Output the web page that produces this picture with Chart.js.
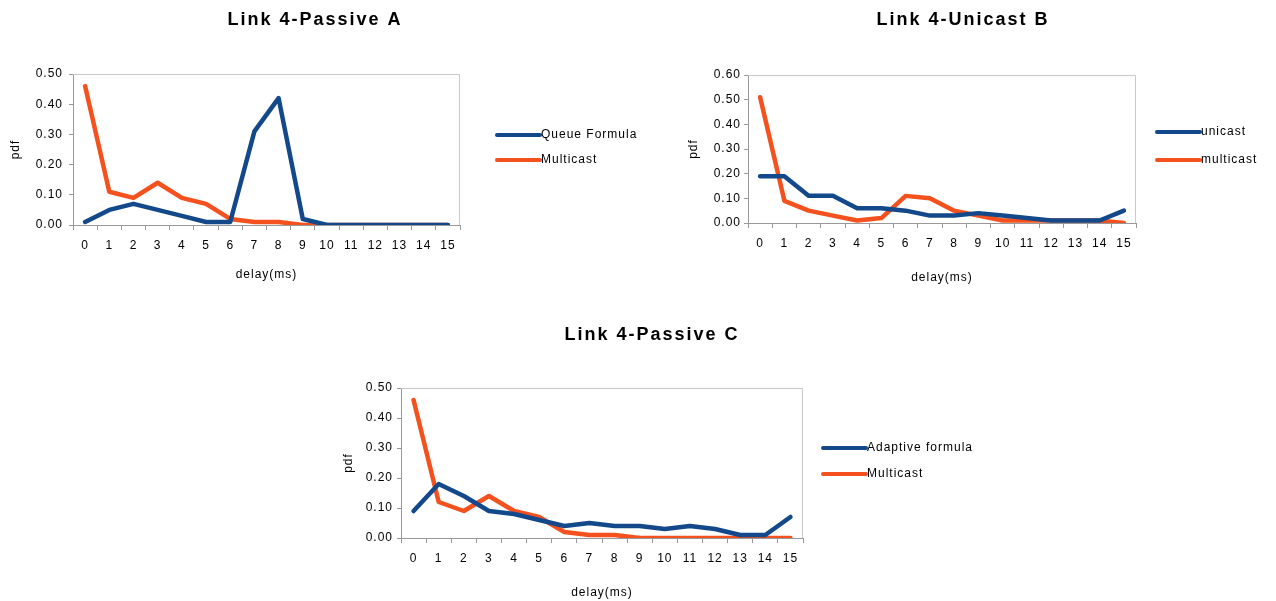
<!DOCTYPE html>
<html>
<head>
<meta charset="utf-8">
<script src="https://cdn.jsdelivr.net/npm/chart.js@4"></script>
<style>
  body { margin: 0; background: #fff; }
  canvas { position: absolute; }
</style>
</head>
<body>
<canvas id="chartA" width="660" height="300" style="left:0;top:0"></canvas>
<canvas id="chartB" width="616" height="300" style="left:660px;top:0"></canvas>
<canvas id="chartC" width="700" height="301" style="left:300px;top:300px"></canvas>
<script>
// data

const delays = ['0', '1', '2', '3', '4', '5', '6', '7', '8', '9', '10', '11', '12', '13', '14', '15'];

const queueFormulaA = [0.01, 0.05, 0.07, 0.05, 0.03, 0.01, 0.01, 0.31, 0.42, 0.02, 0.00, 0.00, 0.00, 0.00, 0.00, 0.00];
const multicastA    = [0.46, 0.11, 0.09, 0.14, 0.09, 0.07, 0.02, 0.01, 0.01, 0.00, 0.00, 0.00, 0.00, 0.00, 0.00, 0.00];

const unicastB      = [0.19, 0.19, 0.11, 0.11, 0.06, 0.06, 0.05, 0.03, 0.03, 0.04, 0.03, 0.02, 0.01, 0.01, 0.01, 0.05];
const multicastB    = [0.51, 0.09, 0.05, 0.03, 0.01, 0.02, 0.11, 0.10, 0.05, 0.03, 0.01, 0.01, 0.01, 0.01, 0.01, 0.00];

const adaptiveC     = [0.09, 0.18, 0.14, 0.09, 0.08, 0.06, 0.04, 0.05, 0.04, 0.04, 0.03, 0.04, 0.03, 0.01, 0.01, 0.07];
const multicastC    = [0.46, 0.12, 0.09, 0.14, 0.09, 0.07, 0.02, 0.01, 0.01, 0.00, 0.00, 0.00, 0.00, 0.00, 0.00, 0.00];

const yMaxA = 0.5;
const yMaxB = 0.6;
const yMaxC = 0.5;

const BLUE = '#13498a';
const ORANGE = '#f4511e';
const FONT = "'Liberation Sans', Arial, sans-serif";

// title, frame and legend drawn next to the plot, excel style
const excelBits = {
    id: 'excelBits',
    beforeUpdate(chart) {
        chart.ctx.letterSpacing = '1px';
    },
    beforeDatasetsDraw(chart) {
        const a = chart.chartArea;
        const ctx = chart.ctx;
        ctx.save();
        ctx.strokeStyle = '#c9c9c9';
        ctx.lineWidth = 1;
        ctx.beginPath();
        ctx.moveTo(a.left, a.top + 0.5);
        ctx.lineTo(a.right - 0.5, a.top + 0.5);
        ctx.lineTo(a.right - 0.5, a.bottom);
        ctx.stroke();
        ctx.restore();
    },
    afterDraw(chart, args, opts) {
        const ctx = chart.ctx;
        ctx.save();
        ctx.fillStyle = '#000';
        ctx.textAlign = 'center';
        ctx.textBaseline = 'middle';
        ctx.letterSpacing = '2px';
        ctx.font = 'bold 18px ' + FONT;
        ctx.fillText(opts.title, opts.titleX, opts.titleY);

        ctx.letterSpacing = '1px';
        ctx.font = '12px ' + FONT;
        ctx.textAlign = 'left';
        chart.data.datasets.forEach((ds, i) => {
            const y = opts.legendY[i];
            ctx.strokeStyle = ds.borderColor;
            ctx.lineWidth = 4;
            ctx.lineCap = 'round';
            ctx.beginPath();
            ctx.moveTo(opts.legendX, y);
            ctx.lineTo(opts.legendX + 43, y);
            ctx.stroke();
            ctx.fillStyle = '#000';
            ctx.fillText(ds.label, opts.legendX + 44, y);
        });
        ctx.restore();
    }
};

function makeChart(canvasId, series, yMax, spec) {
    const canvas = document.querySelector(canvasId);
    const w = canvas.width;
    const h = canvas.height;
    const xBottom = spec.xTitleY + 10;

    return new Chart(canvas, {
        type: 'line',
        data: {
            labels: delays,
            datasets: series.map(s => ({
                label: s.label,
                data: s.data,
                borderColor: s.color,
                backgroundColor: s.color,
                borderWidth: 4.5,
                pointRadius: 0,
                tension: 0,
                borderJoinStyle: 'round',
                borderCapStyle: 'round'
            }))
        },
        options: {
            responsive: false,
            animation: false,
            events: [],
            layout: {
                padding: { left: 0, top: spec.area[1], right: w - spec.area[2], bottom: h - xBottom }
            },
            plugins: {
                legend: { display: false },
                title: { display: false },
                tooltip: { enabled: false },
                excelBits: {
                    title: spec.title,
                    titleX: spec.titleX,
                    titleY: spec.titleY,
                    legendX: spec.legendX,
                    legendY: spec.legendY
                }
            },
            scales: {
                x: {
                    offset: true,
                    afterFit(scale) { scale.height = xBottom - spec.area[3]; },
                    grid: { offset: true, drawOnChartArea: false, tickLength: 5, color: '#999' },
                    border: { color: '#999' },
                    ticks: { color: '#000', padding: 8, maxRotation: 0, autoSkip: false, font: { family: FONT, size: 12 } },
                    title: { display: true, text: 'delay(ms)', color: '#000', padding: { top: 0, bottom: 3 }, font: { family: FONT, size: 12 } }
                },
                y: {
                    min: 0,
                    max: yMax,
                    afterFit(scale) { scale.width = spec.area[0]; },
                    grid: { drawOnChartArea: false, tickLength: 4, color: '#999' },
                    border: { color: '#999' },
                    ticks: {
                        stepSize: 0.1,
                        color: '#000',
                        padding: spec.tickPad,
                        font: { family: FONT, size: 12 },
                        callback: v => v.toFixed(2)
                    },
                    title: { display: true, text: 'pdf', color: '#000', padding: { top: spec.pdfX - 7, bottom: 0 }, font: { family: FONT, size: 12 } }
                }
            }
        },
        plugins: [excelBits]
    });
}

makeChart('#chartA', [
    { label: 'Queue Formula', data: queueFormulaA, color: BLUE },
    { label: 'Multicast', data: multicastA, color: ORANGE }
], yMaxA, {
    title: 'Link 4-Passive A', titleX: 315, titleY: 20,
    area: [73, 74, 460, 225], xTitleY: 275, pdfX: 15, tickPad: 6,
    legendX: 497, legendY: [135, 160]
});

makeChart('#chartB', [
    { label: 'unicast', data: unicastB, color: BLUE },
    { label: 'multicast', data: multicastB, color: ORANGE }
], yMaxB, {
    title: 'Link 4-Unicast B', titleX: 303, titleY: 20,
    area: [88, 75, 476, 223], xTitleY: 278, pdfX: 33, tickPad: 3,
    legendX: 497, legendY: [132, 160]
});

makeChart('#chartC', [
    { label: 'Adaptive formula', data: adaptiveC, color: BLUE },
    { label: 'Multicast', data: multicastC, color: ORANGE }
], yMaxC, {
    title: 'Link 4-Passive C', titleX: 352, titleY: 35,
    area: [101, 88, 503, 238], xTitleY: 293, pdfX: 48, tickPad: 4,
    legendX: 523, legendY: [148, 174]
});
</script>
</body>
</html>
